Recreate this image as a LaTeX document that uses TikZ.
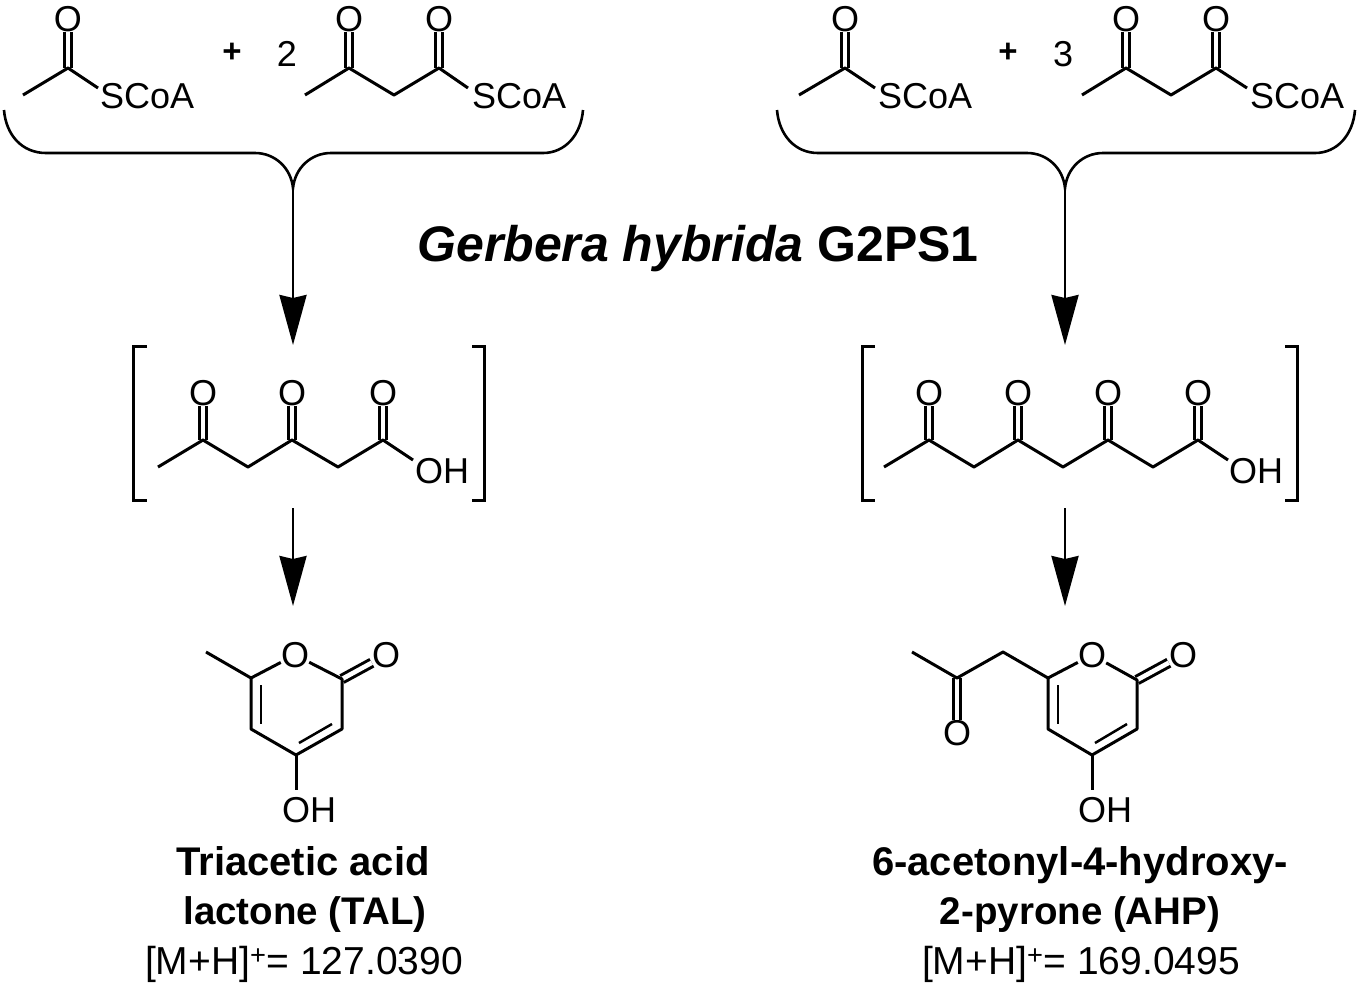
\documentclass[tikz,border=0pt]{standalone}
\usepackage{fontspec}
\setmainfont{Liberation Sans}
\usetikzlibrary{arrows.meta}
\tikzset{
  bond/.style={line width=3pt,line join=round},
  dbond/.style={bond,double,double distance=4.6pt},
  thinbond/.style={bond,line width=2.5pt},
  atom/.style={inner sep=0pt,font=\fontsize{36}{36}\selectfont},
  group/.style={inner sep=0pt,anchor=base west,font=\fontsize{36}{36}\selectfont},
  coef/.style={inner sep=0pt,font=\fontsize{36}{36}\selectfont},
  plus/.style={inner sep=0pt,font=\fontsize{33}{33}\selectfont\bfseries},
  cname/.style={inner sep=0pt,anchor=base,font=\fontsize{40}{40}\selectfont\bfseries},
  cabbr/.style={inner sep=0pt,anchor=base,font=\fontsize{38.5}{38.5}\selectfont\bfseries},
  mass/.style={inner sep=0pt,anchor=base,font=\fontsize{39}{39}\selectfont},
  brace/.style={line width=2.6pt},
  brack/.style={line width=3pt,line join=miter},
  rarrow/.style={line width=2.8pt,-{Stealth[length=50pt,width=27pt,inset=3pt]}}
}
\begin{document}
\begin{tikzpicture}[x=1pt,y=-1pt]
    \useasboundingbox (0,0) rectangle (1359,986);
    % enzyme
    \node[inner sep=0pt,anchor=base,font=\fontsize{50}{50}\selectfont\bfseries] (enzyme) at (698,261) {\textit{Gerbera hybrida} G2PS1};
    % substrates, left
    \foreach \n/\x/\y in {a1/23/95,a2/68/68,a3/98/88,a4/305/95,a5/349/68,a6/394/95,a7/439/68,a8/468/88}
        \coordinate (\n) at (\x,\y);
    \node[atom] (ao1) at (68,19) {O};
    \node[atom] (ao2) at (349,19) {O};
    \node[atom] (ao3) at (439,19) {O};
    \node[group] (as1) at (100,108) {SCoA};
    \node[group] (as2) at (472,108) {SCoA};
    \node[plus] (aplus) at (232,53) {+};
    \node[coef] (atwo) at (287,54) {2};
    \draw[dbond] (a2)--(ao1);
    \draw[dbond] (a5)--(ao2);
    \draw[dbond] (a7)--(ao3);
    \draw[bond] (a1)--(a2)--(a3);
    \draw[bond] (a4)--(a5)--(a6)--(a7)--(a8);
    % substrates, right
    \foreach \n/\x/\y in {b1/799/95,b2/845/68,b3/875/88,b4/1082/95,b5/1126/68,b6/1171/95,b7/1216/68,b8/1247/88}
        \coordinate (\n) at (\x,\y);
    \node[atom] (bo1) at (845,19) {O};
    \node[atom] (bo2) at (1126,19) {O};
    \node[atom] (bo3) at (1216,19) {O};
    \node[group] (bs1) at (878,108) {SCoA};
    \node[group] (bs2) at (1250,108) {SCoA};
    \node[plus] (bplus) at (1008,53) {+};
    \node[coef] (bthree) at (1063,54) {3};
    \draw[dbond] (b2)--(bo1);
    \draw[dbond] (b5)--(bo2);
    \draw[dbond] (b7)--(bo3);
    \draw[bond] (b1)--(b2)--(b3);
    \draw[bond] (b4)--(b5)--(b6)--(b7)--(b8);
    % braces and arrows
    \coordinate (atip) at (293,188);
    \coordinate (btip) at (1065,188);
    \coordinate (ahead) at (293,345);
    \coordinate (bhead) at (1065,345);
    \draw[brace] (4,110) .. controls (6,135) and (22,153) .. (46,153) -- (255,153)
        .. controls (275,153) and (291,168) .. (atip)
        .. controls (295,168) and (311,153) .. (331,153) -- (543,153)
        .. controls (565,153) and (581,135) .. (583,110);
    \draw[brace] (777,110) .. controls (779,135) and (795,153) .. (818,153) -- (1027,153)
        .. controls (1047,153) and (1063,168) .. (btip)
        .. controls (1067,168) and (1083,153) .. (1103,153) -- (1315,153)
        .. controls (1337,153) and (1353,135) .. (1355,110);
    \draw[rarrow] (atip)--(ahead);
    \draw[rarrow] (btip)--(bhead);
    % brackets
    \draw[brack] (147,346)--(133,346)--(133,500)--(147,500);
    \draw[brack] (472,346)--(484,346)--(484,500)--(472,500);
    \draw[brack] (875,346)--(862,346)--(862,500)--(875,500);
    \draw[brack] (1285,346)--(1297,346)--(1297,500)--(1285,500);
    % intermediate, left
    \foreach \n/\x/\y in {c1/158/467,c2/203/440,c3/248/467,c4/292/440,c5/338/467,c6/383/440,c7/413/460}
        \coordinate (\n) at (\x,\y);
    \node[atom] (co1) at (203,393) {O};
    \node[atom] (co2) at (292,393) {O};
    \node[atom] (co3) at (383,393) {O};
    \node[group] (coh) at (415,483) {OH};
    \draw[dbond] (c2)--(co1);
    \draw[dbond] (c4)--(co2);
    \draw[dbond] (c6)--(co3);
    \draw[bond] (c1)--(c2)--(c3)--(c4)--(c5)--(c6)--(c7);
    % intermediate, right
    \foreach \n/\x/\y in {d1/884/467,d2/929/440,d3/974/467,d4/1018/440,d5/1063/467,d6/1108/440,d7/1153/467,d8/1198/440,d9/1228/460}
        \coordinate (\n) at (\x,\y);
    \node[atom] (do1) at (929,393) {O};
    \node[atom] (do2) at (1018,393) {O};
    \node[atom] (do3) at (1108,393) {O};
    \node[atom] (do4) at (1198,393) {O};
    \node[group] (doh) at (1229,483) {OH};
    \draw[dbond] (d2)--(do1);
    \draw[dbond] (d4)--(do2);
    \draw[dbond] (d6)--(do3);
    \draw[dbond] (d8)--(do4);
    \draw[bond] (d1)--(d2)--(d3)--(d4)--(d5)--(d6)--(d7)--(d8)--(d9);
    % lower arrows
    \coordinate (astart) at (293,508);
    \coordinate (bstart) at (1065,508);
    \coordinate (aend) at (293,606);
    \coordinate (bend) at (1065,606);
    \draw[rarrow] (astart)--(aend);
    \draw[rarrow] (bstart)--(bend);
    % TAL
    \foreach \n/\x/\y in {e1/206/652,e2/251/678,e3/342/679,e4/342/729,e5/296/755,e6/251/729,e7/296/790,e8/261/685,e9/261/724,e10/332/724,e11/299/743}
        \coordinate (\n) at (\x,\y);
    \node[atom] (eo1) at (295,655) {O};
    \node[atom] (eo2) at (386,655) {O};
    \node[group] (eoh) at (282,822) {OH};
    \draw[dbond] (e3)--(eo2);
    \draw[bond] (e1)--(e2)--(eo1);
    \draw[bond] (eo1)--(e3)--(e4)--(e5)--(e6)--(e2);
    \draw[bond] (e5)--(e7);
    \draw[thinbond] (e8)--(e9);
    \draw[thinbond] (e10)--(e11);
    % AHP
    \foreach \n/\x/\y in {f1/912/652,f2/957/678,f3/1003/652,f4/1048/678,f5/1137/680,f6/1137/729,f7/1092/755,f8/1048/729,f9/1092/790,f10/1058/685,f11/1058/724,f12/1127/724,f13/1095/743}
        \coordinate (\n) at (\x,\y);
    \node[atom] (fo1) at (957,733) {O};
    \node[atom] (fo2) at (1092,655) {O};
    \node[atom] (fo3) at (1183,655) {O};
    \node[group] (foh) at (1078,822) {OH};
    \draw[dbond] (f2)--(fo1);
    \draw[dbond] (f5)--(fo3);
    \draw[bond] (f1)--(f2)--(f3)--(f4)--(fo2);
    \draw[bond] (fo2)--(f5)--(f6)--(f7)--(f8)--(f4);
    \draw[bond] (f7)--(f9);
    \draw[thinbond] (f10)--(f11);
    \draw[thinbond] (f12)--(f13);
    % names
    \node[cname] (talname) at (303,875) {Triacetic acid};
    \node[cabbr] (talabbr) at (305,924) {lactone (TAL)};
    \node[mass] (talmass) at (304,974) {[M+H]\textsuperscript{+}= 127.0390};
    \node[cname] (ahpname) at (1080,875) {6-acetonyl-4-hydroxy-};
    \node[cabbr] (ahpabbr) at (1080,924) {2-pyrone (AHP)};
    \node[mass] (ahpmass) at (1081,974) {[M+H]\textsuperscript{+}= 169.0495};
\end{tikzpicture}
\end{document}
